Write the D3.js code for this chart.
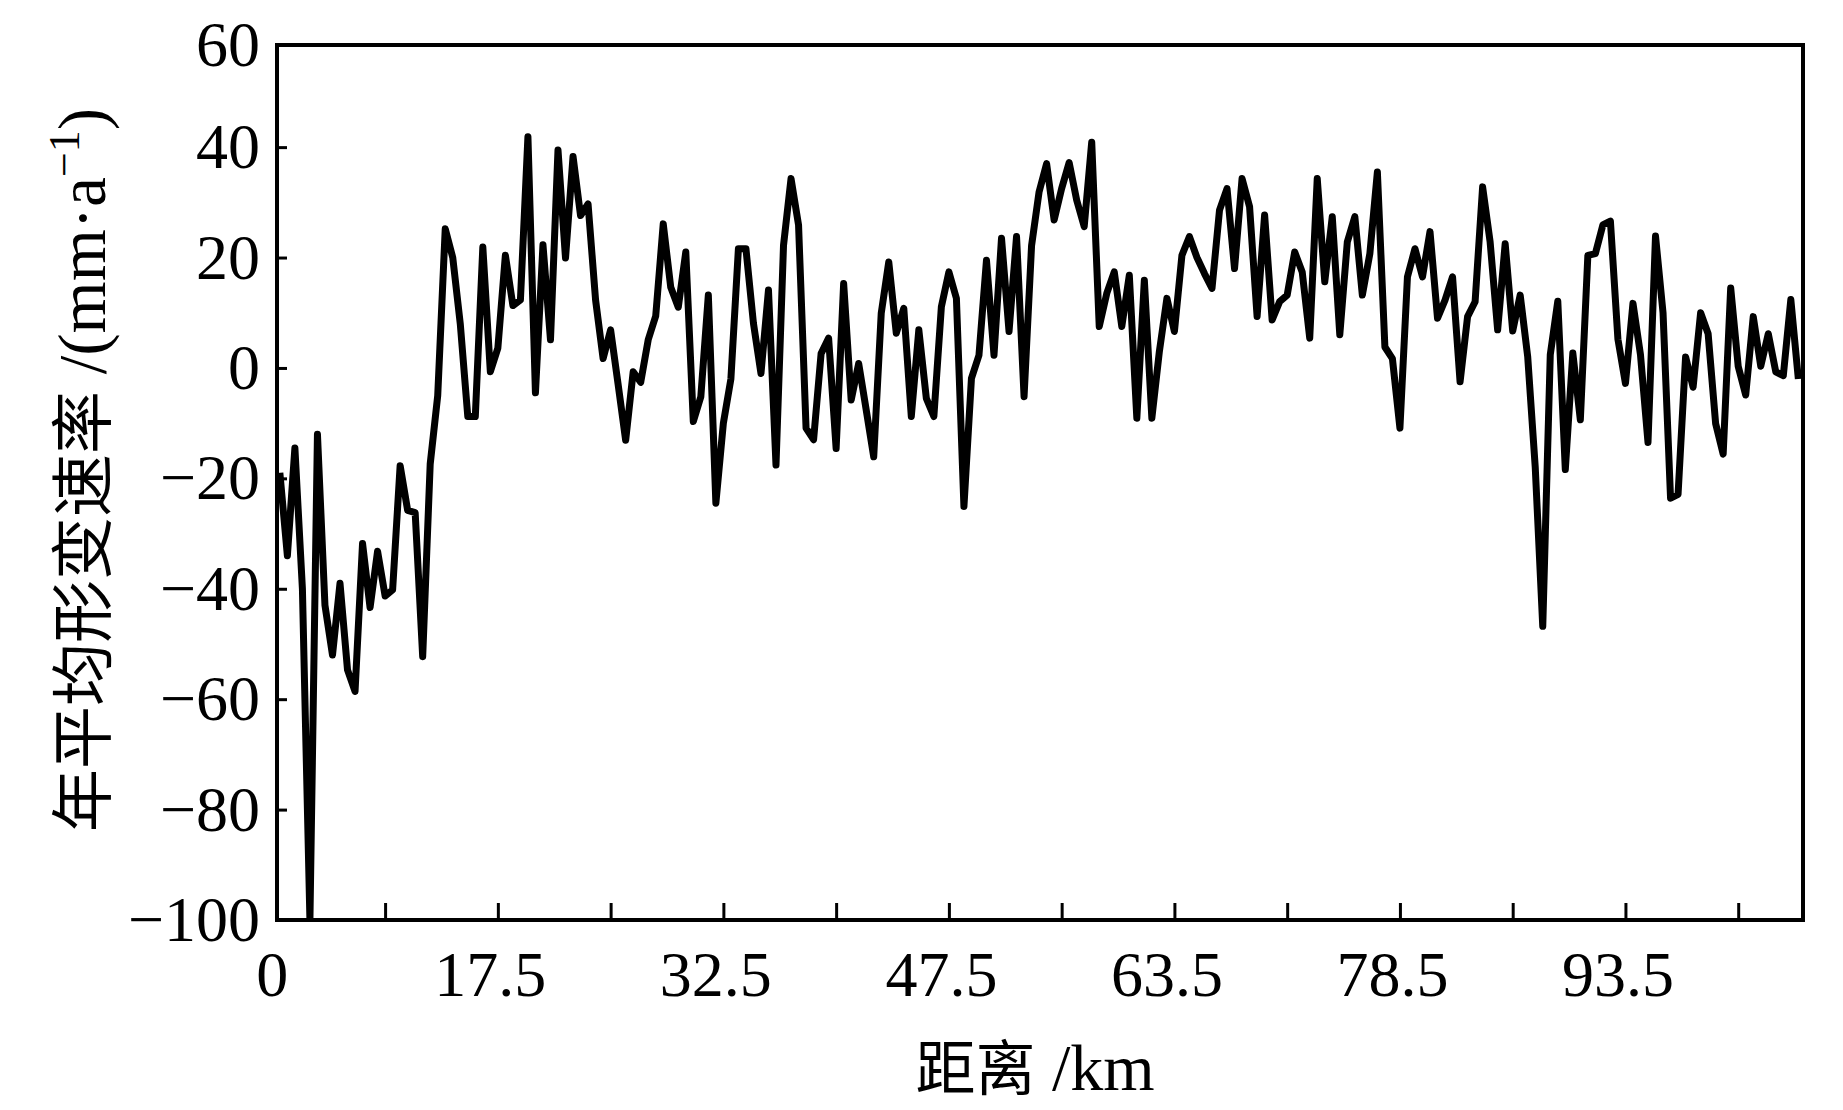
<!DOCTYPE html>
<meta charset="utf-8">

<!-- Load d3.js -->
<script src="https://d3js.org/d3.v7.min.js"></script>

<style>
  body { margin: 0; background: #fff; }
  .tick-label text {
    font-family: "Liberation Serif", "Times New Roman", serif;
    font-size: 64px;
    fill: #000;
  }
  .tick-mark line { stroke: #000; stroke-width: 3px; }
  .tick-mark path, .tick-label path { display: none; }
</style>

<body>
<div id="chart"></div>

<script>
// annual mean deformation rate along the profile (mm/a), one value every 0.5 km
var rates = [
  -19, -34, -14.5, -40, -100, -12, -43, -52, -39, -54.7,
  -58.6, -31.8, -43.4, -33.2, -41.3, -40.2, -17.7, -25.8, -26.2, -52.3,
  -17.4, -5, 25.2, 20, 8, -8.8, -8.8, 21.9, -0.7, 3.6,
  20.4, 11.3, 12.3, 41.9, -4.5, 22.3, 5.1, 39.5, 19.9, 38.3,
  27.6, 29.7, 12.3, 1.7, 6.9, -3, -13.1, -0.7, -2.6, 5.1,
  9.4, 26.1, 14.6, 11, 21, -9.7, -5.2, 13.2, -24.5, -10,
  -2, 21.6, 21.6, 8.1, -1, 14.1, -17.6, 22.2, 34.3, 25.9,
  -10.9, -13, 2.6, 5.4, -14.6, 15.3, -5.8, 0.8, -7.6, -16.1,
  9.9, 19.2, 6.3, 10.8, -8.8, 6.9, -5.5, -8.8, 11.1, 17.4,
  12.6, -25.1, -1.9, 2.3, 19.5, 2.3, 23.5, 6.6, 23.8, -5.2,
  22.2, 31.9, 37, 26.8, 32.5, 37.2, 30.4, 25.6, 40.9, 7.5,
  13.5, 17.4, 7.5, 16.8, -9.1, 15.9, -9.1, 3, 12.6, 6.6,
  20.4, 23.8, 20, 17.1, 14.4, 28.6, 32.5, 18, 34.3, 29.2,
  9.3, 27.7, 8.7, 12, 13.2, 21, 17.4, 5.4, 34.3, 15.6,
  27.4, 6, 22.8, 27.4, 13.2, 20.7, 35.5, 3.8, 1.7, -10.9,
  16.5, 21.6, 16.5, 24.7, 9, 12.3, 16.5, -2.5, 9.3, 12,
  32.8, 22.8, 6.9, 22.5, 6.7, 13.2, 2, -18, -46.8, 2.4,
  12.1, -18.4, 2.7, -9.4, 20.4, 20.7, 25.9, 26.6, 5.2, -2.8,
  11.7, 2.4, -13.5, 23.9, 10, -23.6, -22.9, 2, -3.5, 10,
  6.2, -10.1, -15.6, 14.5, 0.3, -4.9, 9.3, 0.3, 6.2, -0.7,
  -1.4, 12.4, -2
];
var kmStep = 0.5;

// x tick marks (km) and the labels printed under them
var xTickKm = [7, 14.5, 22, 29.5, 37, 44.5, 52, 59.5, 67, 74.5, 82, 89.5, 97];
var xLabelKm = [0, 14.5, 29.5, 44.5, 59.5, 74.5, 89.5];
var xLabelText = ["0", "17.5", "32.5", "47.5", "63.5", "78.5", "93.5"];

// y ticks
var yTicks = [-100, -80, -60, -40, -20, 0, 20, 40, 60];

var W = 1843, H = 1110;
var margin = { top: 45, right: 40, bottom: 190, left: 277 },
    width = W - margin.left - margin.right,
    height = H - margin.top - margin.bottom;

var data = rates.map(function(v, i) { return { km: i * kmStep, v: v }; });

var svg = d3.select("#chart").append("svg")
    .attr("width", W)
    .attr("height", H);

// scales
var x = d3.scaleLinear()
    .domain([-0.19, 101.31])
    .range([margin.left, margin.left + width]);

var y = d3.scaleLinear()
    .domain([-100, 58.5])
    .range([margin.top + height, margin.top])
    .clamp(true);

// clip the curve to the plot box
svg.append("clipPath").attr("id", "plotClip")
  .append("rect")
    .attr("x", margin.left).attr("y", margin.top)
    .attr("width", width).attr("height", height);

// tick marks (inside the box)
svg.append("g")
    .attr("class", "tick-mark")
    .attr("transform", "translate(0," + (margin.top + height) + ")")
    .call(d3.axisBottom(x).tickValues(xTickKm).tickSizeInner(-17).tickSizeOuter(0).tickFormat(""));

svg.append("g")
    .attr("class", "tick-mark")
    .attr("transform", "translate(" + margin.left + ",0)")
    .call(d3.axisLeft(y).tickValues(yTicks.slice(0, -1)).tickSizeInner(-10).tickSizeOuter(0).tickFormat(""));

// tick labels
svg.append("g")
    .attr("class", "tick-label")
    .attr("transform", "translate(0," + (margin.top + height) + ")")
    .call(d3.axisBottom(x).tickValues(xLabelKm).tickSize(0).tickPadding(31)
      .tickFormat(function(d, i) { return xLabelText[i]; }))
    .selectAll("text")
    .attr("dx", -8);

svg.append("g")
    .attr("class", "tick-label")
    .attr("transform", "translate(" + margin.left + ",0)")
    .call(d3.axisLeft(y).tickValues(yTicks).tickSize(0).tickPadding(17));

// the profile line
var line = d3.line()
    .x(function(d) { return x(d.km); })
    .y(function(d) { return y(d.v); });

svg.append("path")
    .datum(data)
    .attr("clip-path", "url(#plotClip)")
    .attr("fill", "none")
    .attr("stroke", "#000")
    .attr("stroke-width", 7)
    .attr("stroke-linejoin", "round")
    .attr("d", line);

// frame
svg.append("rect")
    .attr("x", margin.left).attr("y", margin.top)
    .attr("width", width).attr("height", height)
    .attr("fill", "none")
    .attr("stroke", "#000")
    .attr("stroke-width", 4);

// x axis title
var xt = svg.append("text")
    .attr("x", margin.left + width / 2 - 5)
    .attr("y", 1090)
    .attr("text-anchor", "middle")
    .style("font-family", "'Liberation Serif', 'Noto Sans CJK SC', serif");
xt.append("tspan").style("font-size", "60px").style("font-family", "'Noto Sans CJK SC', sans-serif").text("距离");
xt.append("tspan").style("font-size", "66px").text(" /km");

// y axis title
var yt = svg.append("text")
    .attr("transform", "translate(105,470) rotate(-90)")
    .attr("text-anchor", "middle")
    .style("font-family", "'Liberation Serif', 'Noto Sans CJK SC', serif");
yt.append("tspan").style("font-size", "63px").style("font-family", "'Noto Sans CJK SC', sans-serif").text("年平均形变速率");
yt.append("tspan").style("font-size", "67px").text(" /(mm·a");
yt.append("tspan").style("font-size", "44px").attr("dy", -26).text("−1");
yt.append("tspan").style("font-size", "67px").attr("dy", 26).text(")");
</script>
</body>
</html>
